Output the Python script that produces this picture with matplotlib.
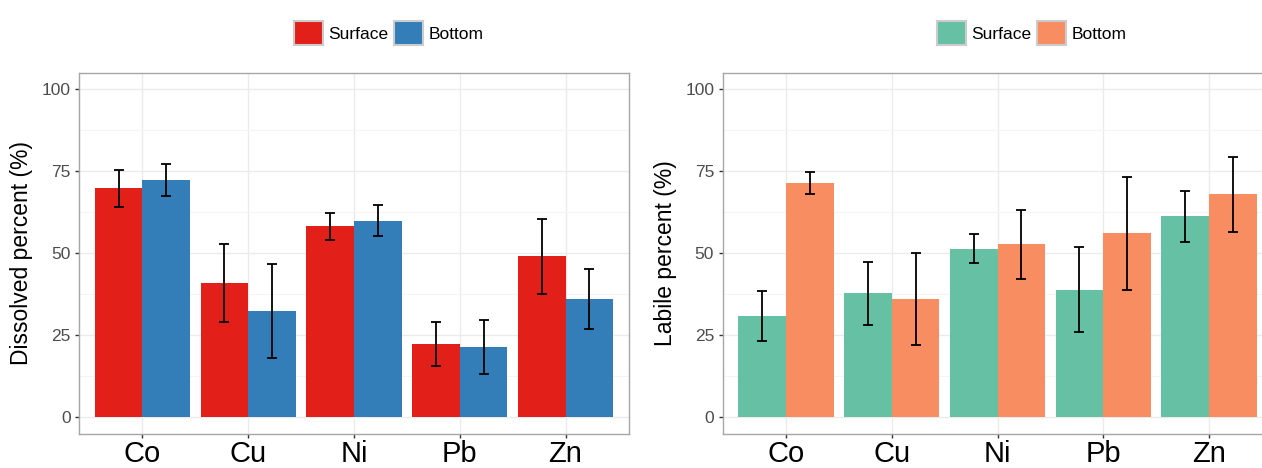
import numpy as np
import matplotlib
matplotlib.use('Agg')
import matplotlib.pyplot as plt
from matplotlib.patches import Patch
from matplotlib.ticker import MultipleLocator

plt.rcParams['font.family'] = ['Liberation Sans', 'DejaVu Sans']

# Data
metals = ['Co', 'Cu', 'Ni', 'Pb', 'Zn']

dissolved_surface = [69.8, 40.9, 58.2, 22.3, 49.0]
dissolved_surface_err = [5.7, 11.85, 4.15, 6.65, 11.55]
dissolved_bottom = [72.3, 32.3, 59.9, 21.4, 36.0]
dissolved_bottom_err = [5.0, 14.35, 4.8, 8.25, 9.25]

labile_surface = [30.8, 37.7, 51.4, 38.9, 61.2]
labile_surface_err = [7.7, 9.75, 4.45, 12.85, 7.8]
labile_bottom = [71.5, 36.0, 52.7, 56.0, 68.0]
labile_bottom_err = [3.4, 14.0, 10.5, 17.2, 11.45]

W, H = 1262, 468
fig = plt.figure(figsize=(W / 100, H / 100), dpi=100)


def panel(left_px, surf, surf_err, bot, bot_err, colors, ylabel, legend_x):
    ax = fig.add_axes([left_px / W, (H - 433.5) / H, 550 / W, (433.5 - 72.8) / H])
    x = np.arange(1, len(metals) + 1)
    bw = 0.45
    ax.bar(x - bw / 2, surf, bw, color=colors[0], zorder=2)
    ax.bar(x + bw / 2, bot, bw, color=colors[1], zorder=2)
    ax.errorbar(x - bw / 2, surf, yerr=surf_err, fmt='none', ecolor='black',
                elinewidth=1.3, capsize=3.8, capthick=1.3, zorder=3)
    ax.errorbar(x + bw / 2, bot, yerr=bot_err, fmt='none', ecolor='black',
                elinewidth=1.3, capsize=3.8, capthick=1.3, zorder=3)

    ax.set_xlim(0.4, 5.6)
    ax.set_ylim(-5, 105)
    ax.set_xticks(x)
    ax.set_xticklabels(metals, fontsize=21, color='black')
    ax.yaxis.set_major_locator(MultipleLocator(25))
    ax.yaxis.set_minor_locator(MultipleLocator(12.5))
    ax.set_yticks([0, 25, 50, 75, 100])
    ax.tick_params(axis='y', labelsize=12.5, labelcolor='#4d4d4d', length=3,
                   width=1, color='#333333', pad=3)
    ax.tick_params(axis='y', which='minor', length=0)
    ax.tick_params(axis='x', length=3, width=1, color='#333333', pad=2)
    ax.grid(True, which='major', color='#ebebeb', lw=1, zorder=0)
    ax.grid(True, which='minor', axis='y', color='#f4f4f4', lw=0.8, zorder=0)
    ax.set_axisbelow(True)
    for s in ax.spines.values():
        s.set_color('#a6a6a6')
        s.set_linewidth(1)
    ax.set_ylabel(ylabel, fontsize=16.5, color='black', labelpad=6)

    handles = [Patch(facecolor=colors[0], edgecolor='#cccccc', lw=1.5, label='Surface'),
               Patch(facecolor=colors[1], edgecolor='#cccccc', lw=1.5, label='Bottom')]
    fig.legend(handles=handles, loc='center', bbox_to_anchor=(legend_x / W, 1 - 33 / H),
               ncol=2, frameon=False, fontsize=12.5, handlelength=1.7, handleheight=1.7,
               handletextpad=0.3, columnspacing=0.3, borderpad=0)
    return ax


panel(79, dissolved_surface, dissolved_surface_err, dissolved_bottom, dissolved_bottom_err,
      ['#E31F1A', '#337DB8'], 'Dissolved percent (%)', 388.5)
ax2 = panel(722.5, labile_surface, labile_surface_err, labile_bottom, labile_bottom_err,
            ['#66C0A3', '#F98D62'], 'Labile percent (%)', 1031.5)
# the right panel runs past the image edge in the reference
ax2.spines['right'].set_visible(False)

fig.savefig('out.png', dpi=100)
